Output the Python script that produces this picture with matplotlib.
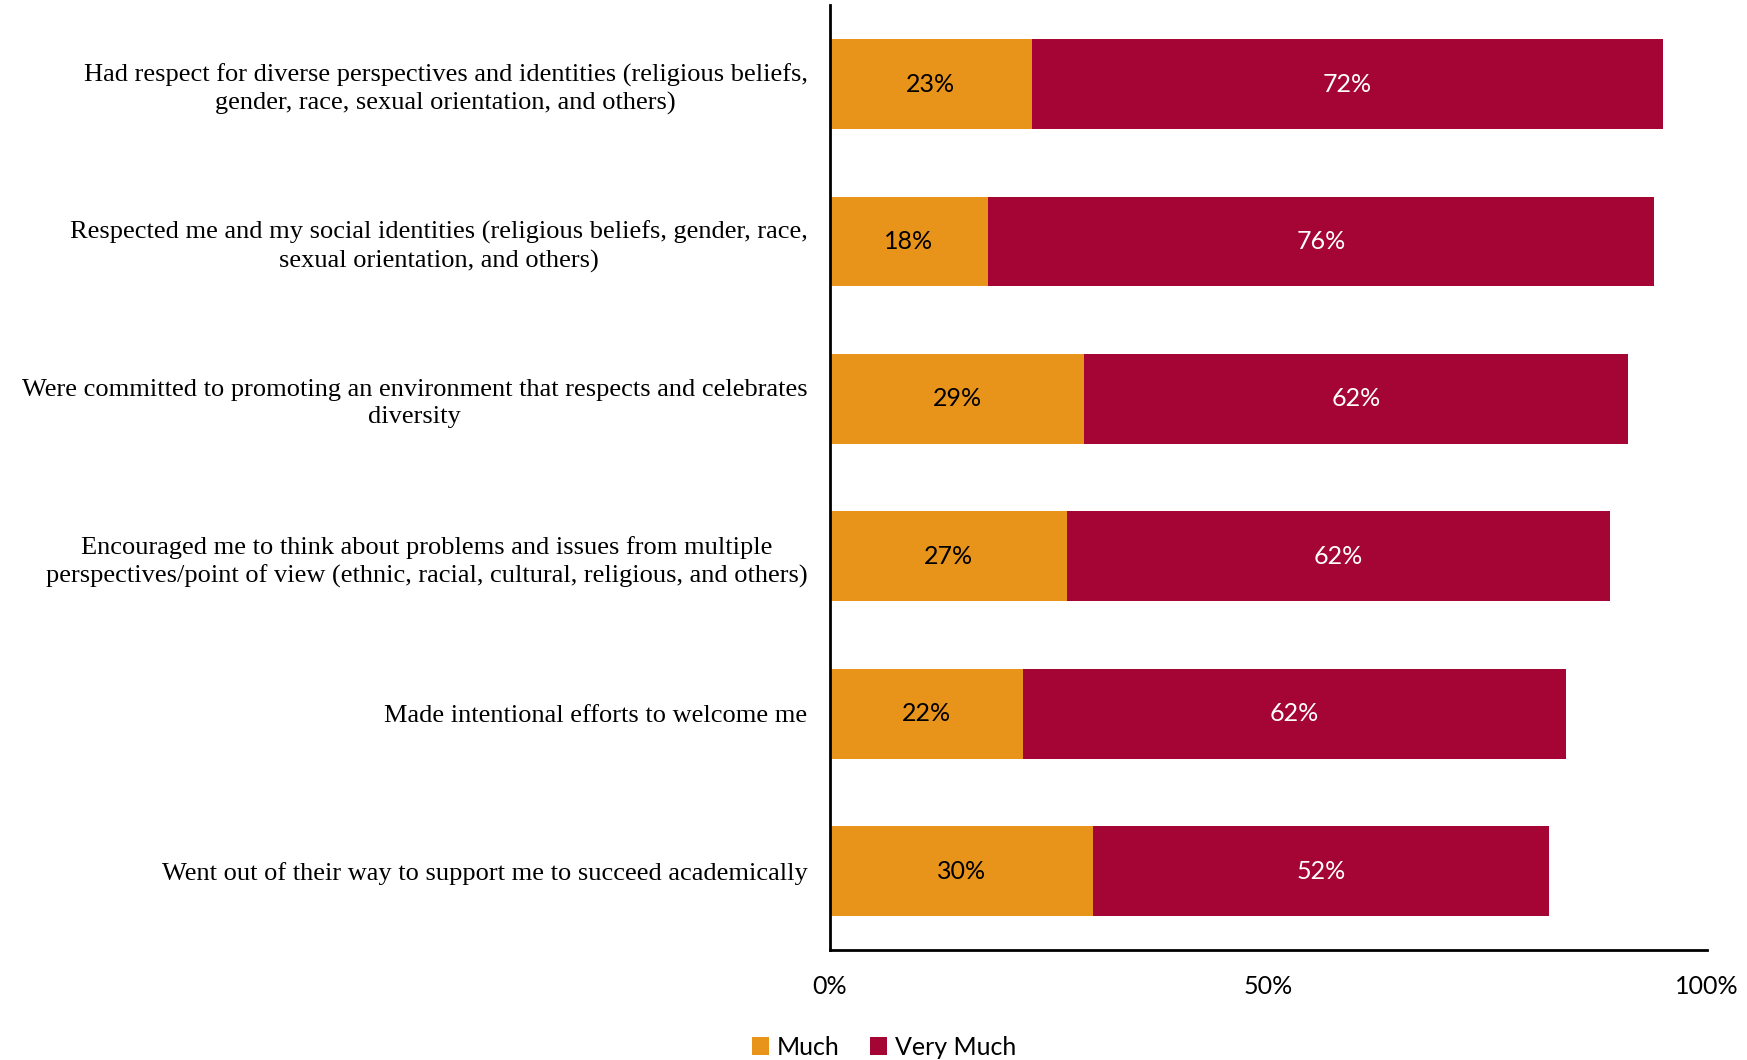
import matplotlib
matplotlib.use("Agg")
import matplotlib.pyplot as plt
from matplotlib.ticker import FixedLocator, FuncFormatter

categories = [
    "Had respect for diverse perspectives and identities (religious beliefs,\ngender, race, sexual orientation, and others)",
    "Respected me and my social identities (religious beliefs, gender, race,\nsexual orientation, and others)",
    "Were committed to promoting an environment that respects and celebrates\ndiversity",
    "Encouraged me to think about problems and issues from multiple\nperspectives/point of view (ethnic, racial, cultural, religious, and others)",
    "Made intentional efforts to welcome me",
    "Went out of their way to support me to succeed academically",
]
much = [23, 18, 29, 27, 22, 30]
very_much = [72, 76, 62, 62, 62, 52]
series_names = ["Much", "Very Much"]
xticks = [0, 50, 100]

c_much = "#E8941A"
c_vm = "#A50534"

fig = plt.figure(figsize=(17.47, 10.60), dpi=100)
ax = fig.add_axes([0.475, 0.104, 0.977 - 0.475, 0.995 - 0.104])

y = list(range(len(categories)))
h = 0.57
ax.barh(y, much, height=h, color=c_much, label=series_names[0])
ax.barh(y, very_much, left=much, height=h, color=c_vm, label=series_names[1])

lab_font = dict(family=["Lato", "DejaVu Sans"], fontsize=18)
for yi, m, v in zip(y, much, very_much):
    ax.text(m / 2, yi, f"{m}%", ha="center", va="center", color="black", **lab_font)
    ax.text(m + v / 2, yi, f"{v}%", ha="center", va="center", color="white", **lab_font)

ax.set_xlim(0, 100)
ax.set_ylim(len(categories) - 0.5, -0.5)
ax.set_yticks(y)
ax.set_yticklabels(categories, family=["Liberation Serif", "DejaVu Serif"], fontsize=19)
for t in ax.get_yticklabels():
    t.set_multialignment("center")
    t.set_linespacing(1.3)
ax.xaxis.set_major_locator(FixedLocator(xticks))
ax.xaxis.set_major_formatter(FuncFormatter(lambda v, p: f"{int(v)}%"))
for t in ax.get_xticklabels():
    t.set_family(["Lato", "DejaVu Sans"])
    t.set_fontsize(18)
ax.tick_params(axis="both", length=0)
ax.tick_params(axis="x", pad=18)
ax.tick_params(axis="y", pad=16)

for s in ["top", "right"]:
    ax.spines[s].set_visible(False)
for s in ["left", "bottom"]:
    ax.spines[s].set_linewidth(2)
    ax.spines[s].set_color("black")

fig.legend(loc="lower center", bbox_to_anchor=(0.506, -0.02), ncol=2, frameon=False,
           handlelength=0.7, handleheight=0.7, handletextpad=0.3, columnspacing=1.2,
           prop={"family": ["Lato", "DejaVu Sans"], "size": 18})

fig.savefig("out.png", dpi=100)
